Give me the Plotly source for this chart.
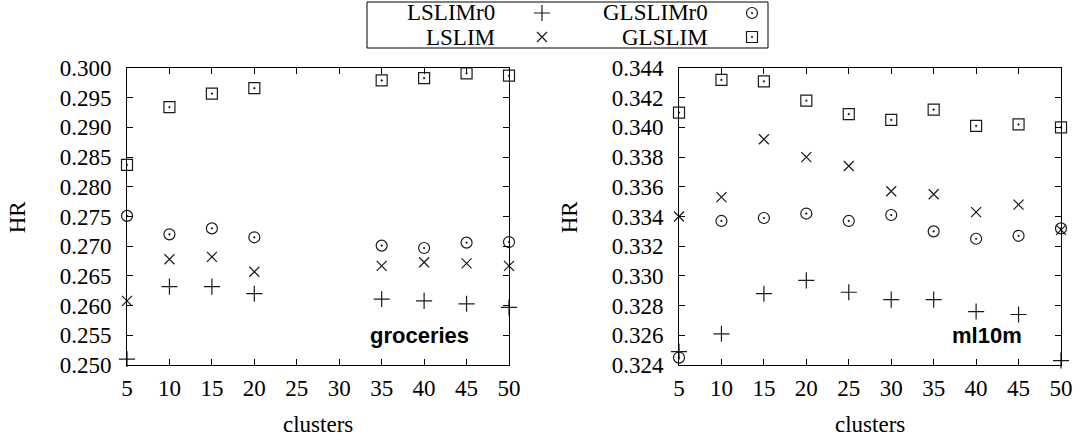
import plotly.graph_objects as go

W, H = 1081, 440

# cluster counts
clusters_groceries = [5, 10, 15, 20, 35, 40, 45, 50]
clusters_ml10m = [5, 10, 15, 20, 25, 30, 35, 40, 45, 50]

# HR on groceries
groceries_lslimr0 = [0.2510, 0.2632, 0.2632, 0.2620, 0.2611, 0.2608, 0.2603, 0.2597]
groceries_lslim = [0.2608, 0.2678, 0.2682, 0.2657, 0.2667, 0.2673, 0.2671, 0.2667]
groceries_glslimr0 = [0.2751, 0.2720, 0.2730, 0.2715, 0.2701, 0.2697, 0.2706, 0.2707]
groceries_glslim = [0.2837, 0.2934, 0.2957, 0.2966, 0.2979, 0.2983, 0.2991, 0.2987]

# HR on ml10m
ml10m_lslimr0 = [0.3249, 0.3261, 0.3288, 0.3297, 0.3289, 0.3284, 0.3284, 0.3276, 0.3274, 0.3243]
ml10m_lslim = [0.3340, 0.3353, 0.3392, 0.3380, 0.3374, 0.3357, 0.3355, 0.3343, 0.3348, 0.3331]
ml10m_glslimr0 = [0.3245, 0.3337, 0.3339, 0.3342, 0.3337, 0.3341, 0.3330, 0.3325, 0.3327, 0.3332]
ml10m_glslim = [0.3410, 0.3432, 0.3431, 0.3418, 0.3409, 0.3405, 0.3412, 0.3401, 0.3402, 0.3400]

method_names = ["LSLIMr0", "LSLIM", "GLSLIMr0", "GLSLIM"]
x_ticks = [5, 10, 15, 20, 25, 30, 35, 40, 45, 50]

INK = "#1a1a1a"
SERIF = "Liberation Serif"
FS = 23

# gnuplot-like point types
styles = {
    "LSLIMr0": dict(symbol="cross-thin-open", size=11.5),
    "LSLIM": dict(symbol="x-thin-open", size=10),
    "GLSLIMr0": dict(symbol="circle-open-dot", size=11),
    "GLSLIM": dict(symbol="square-open-dot", size=11),
}

fig = go.Figure()


def add_series(xs, ys, name, xa, ya):
    st = styles[name]
    fig.add_trace(go.Scatter(
        x=xs, y=ys, mode="markers", name=name, showlegend=False,
        xaxis=xa, yaxis=ya, cliponaxis=False,
        marker=dict(symbol=st["symbol"], size=st["size"], color=INK,
                    line=dict(color=INK, width=1.2)),
    ))


for name, ys in zip(method_names, [groceries_lslimr0, groceries_lslim,
                                   groceries_glslimr0, groceries_glslim]):
    add_series(clusters_groceries, ys, name, "x", "y")

for name, ys in zip(method_names, [ml10m_lslimr0, ml10m_lslim,
                                   ml10m_glslimr0, ml10m_glslim]):
    add_series(clusters_ml10m, ys, name, "x2", "y2")

# key box at the top: label first, then its point type
key_rows = [(13, ["LSLIMr0", "GLSLIMr0"]), (37, ["LSLIM", "GLSLIM"])]
key_text_right = [497, 710]
key_symbol_x = [542, 752]
for row_y, names in key_rows:
    for col, name in enumerate(names):
        st = styles[name]
        fig.add_trace(go.Scatter(
            x=[key_symbol_x[col]], y=[row_y], mode="markers", showlegend=False,
            xaxis="x3", yaxis="y3", hoverinfo="skip",
            marker=dict(symbol=st["symbol"], size=st["size"], color=INK,
                        line=dict(color=INK, width=1.2)),
        ))

annotations = []
for row_y, names in key_rows:
    for col, name in enumerate(names):
        annotations.append(dict(
            text=name, xref="paper", yref="paper",
            x=key_text_right[col] / W, y=(H - row_y) / H,
            xanchor="right", yanchor="middle", showarrow=False,
            font=dict(family=SERIF, size=FS, color="black"),
        ))

shapes = [dict(type="rect", xref="paper", yref="paper",
               x0=367 / W, x1=768 / W, y0=(H - 48) / H, y1=(H - 2) / H,
               line=dict(color="black", width=1))]

y_dom = [75 / H, 372 / H]
common_x = dict(range=[5, 50], tickmode="array", tickvals=x_ticks,
                ticks="inside", ticklen=6, tickcolor="black",
                showline=True, linecolor="black", linewidth=1, mirror="ticks",
                showgrid=False, zeroline=False, ticklabelstandoff=2,
                tickfont=dict(family=SERIF, size=FS, color="black"))
common_y = dict(ticks="inside", ticklen=6, tickcolor="black",
                showline=True, linecolor="black", linewidth=1, mirror="ticks",
                showgrid=False, zeroline=False, tickformat=".3f",
                ticklabelstandoff=10,
                tickfont=dict(family=SERIF, size=FS, color="black"))

for xref, yref, dataset, dx in [("x", "y", "groceries", 0.767),
                                ("x2", "y2", "ml10m", 0.806)]:
    annotations.append(dict(
        text="<b>%s</b>" % dataset, xref=xref + " domain", yref=yref + " domain",
        x=dx, y=0.098, xanchor="center", yanchor="middle", showarrow=False,
        font=dict(family="Liberation Sans", size=22, color="black")))
    annotations.append(dict(
        text="clusters", xref=xref + " domain", yref=yref + " domain",
        x=0.5, y=-0.202, xanchor="center", yanchor="middle", showarrow=False,
        font=dict(family=SERIF, size=FS, color="black")))
    annotations.append(dict(
        text="HR", xref=xref + " domain", yref=yref + " domain",
        x=-0.286, y=0.5, xanchor="center", yanchor="middle", showarrow=False,
        textangle=-90, font=dict(family=SERIF, size=FS, color="black")))

fig.update_layout(
    width=W, height=H,
    margin=dict(l=0, r=0, t=0, b=0, autoexpand=False),
    paper_bgcolor="white", plot_bgcolor="rgba(0,0,0,0)",
    showlegend=False,
    xaxis=dict(domain=[127 / W, 509 / W], anchor="y", **common_x),
    yaxis=dict(domain=y_dom, anchor="x", range=[0.25, 0.30],
               tickvals=[0.25 + 0.005 * i for i in range(11)], **common_y),
    xaxis2=dict(domain=[679 / W, 1061 / W], anchor="y2", **common_x),
    yaxis2=dict(domain=y_dom, anchor="x2", range=[0.324, 0.344],
                tickvals=[0.324 + 0.002 * i for i in range(11)], **common_y),
    xaxis3=dict(domain=[0, 1], range=[0, W], visible=False, anchor="y3",
                fixedrange=True),
    yaxis3=dict(domain=[0, 1], range=[H, 0], visible=False, anchor="x3",
                fixedrange=True),
    annotations=annotations,
    shapes=shapes,
)

fig.write_html("out.html")
